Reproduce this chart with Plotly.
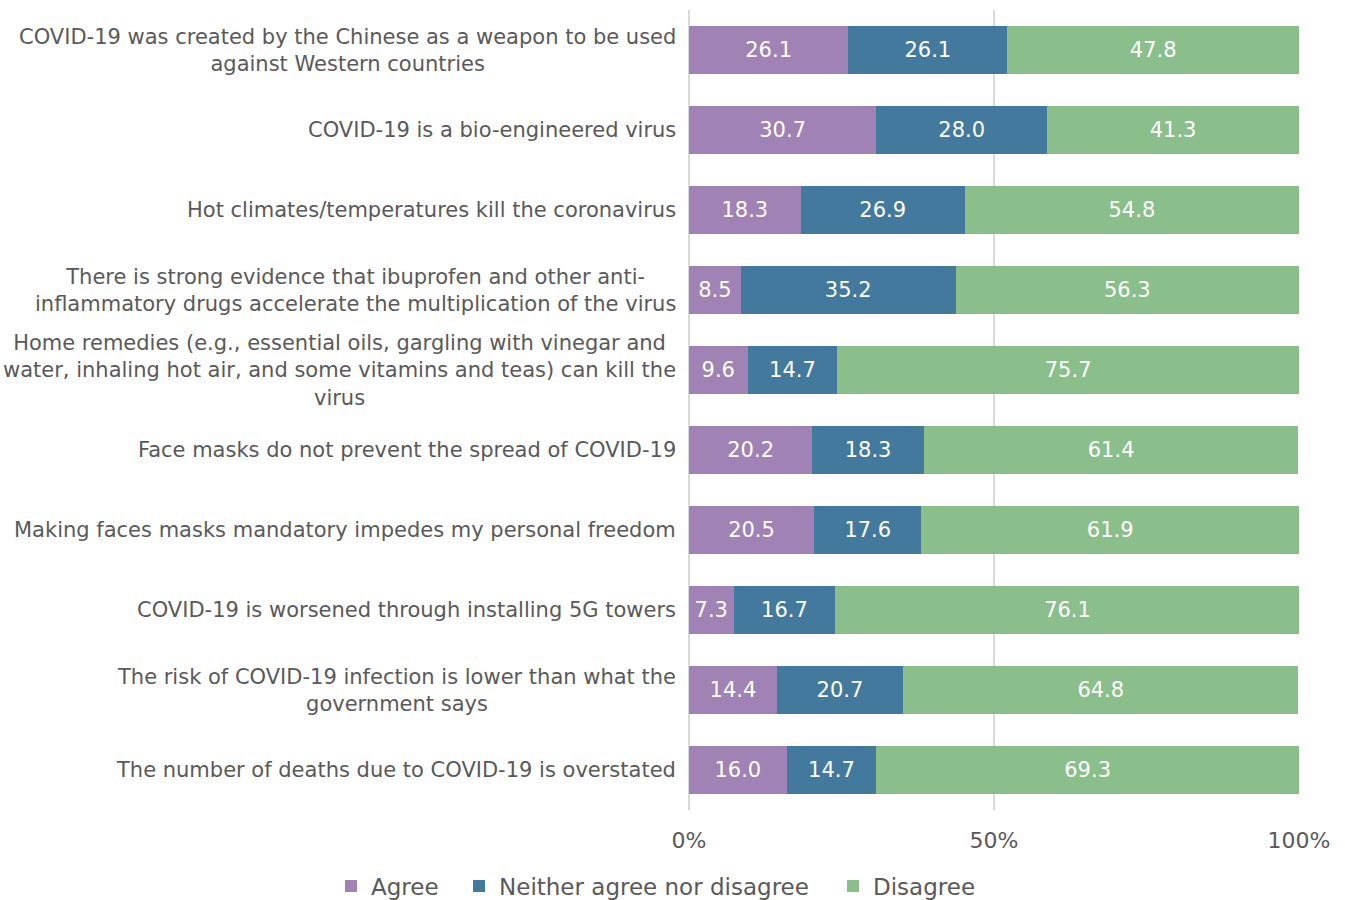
import plotly.graph_objects as go

statements = [
    "COVID-19 was created by the Chinese as a weapon to be used<br>against Western countries",
    "COVID-19 is a bio-engineered virus",
    "Hot climates/temperatures kill the coronavirus",
    "There is strong evidence that ibuprofen and other anti-<br>inflammatory drugs accelerate the multiplication of the virus",
    "Home remedies (e.g., essential oils, gargling with vinegar and<br>water, inhaling hot air, and some vitamins and teas) can kill the<br>virus",
    "Face masks do not prevent the spread of COVID-19",
    "Making faces masks mandatory impedes my personal freedom",
    "COVID-19 is worsened through installing 5G towers",
    "The risk of COVID-19 infection is lower than what the<br>government says",
    "The number of deaths due to COVID-19 is overstated",
]
agree = [26.1, 30.7, 18.3, 8.5, 9.6, 20.2, 20.5, 7.3, 14.4, 16.0]
neither = [26.1, 28.0, 26.9, 35.2, 14.7, 18.3, 17.6, 16.7, 20.7, 14.7]
disagree = [47.8, 41.3, 54.8, 56.3, 75.7, 61.4, 61.9, 76.1, 64.8, 69.3]

series = [
    ("Agree", agree, "#A082B4", "legend", -0.5869),
    ("Neither agree nor disagree", neither, "#43799D", "legend2", -0.377),
    ("Disagree", disagree, "#8ABF8B", "legend3", 0.2361),
]

FONT = "DejaVu Sans"
GREY = "#595959"

fig = go.Figure()
legend_layouts = {}
for name, vals, color, leg, lx in series:
    fig.add_trace(go.Bar(
        name=name,
        y=statements,
        x=vals,
        orientation="h",
        legend=leg,
        showlegend=True,
        marker=dict(color=color, line=dict(width=0)),
        text=[f"{v:.1f}" for v in vals],
        textposition="inside",
        insidetextanchor="middle",
        textfont=dict(family=FONT, size=21, color="white"),
        constraintext="none",
    ))
    legend_layouts[leg] = dict(
        orientation="h",
        x=lx,
        xanchor="left",
        y=-0.095,
        yanchor="middle",
        font=dict(family=FONT, size=23, color=GREY),
        itemwidth=30,
        bgcolor="rgba(0,0,0,0)",
        visible=True,
    )

# Category labels: multi-line labels are centred line-by-line, block right-aligned
for s in statements:
    fig.add_annotation(
        x=0, xref="paper", y=s, yref="y",
        text=s, showarrow=False,
        xanchor="right", yanchor="middle", align="center",
        xshift=-11,
        font=dict(family=FONT, size=21, color=GREY),
    )

fig.update_layout(
    barmode="stack",
    bargap=0.4,
    width=1345,
    height=900,
    showlegend=True,
    margin=dict(l=689, r=46, t=10, b=90, autoexpand=False),
    paper_bgcolor="white",
    plot_bgcolor="white",
    font=dict(family=FONT, color=GREY),
    uniformtext=dict(mode=False),
    xaxis=dict(
        range=[0, 100],
        tickvals=[0, 50, 100],
        ticktext=["0%", "50%", "100%"],
        showgrid=True,
        gridcolor="#D9D9D9",
        gridwidth=2,
        zeroline=True,
        zerolinecolor="#D9D9D9",
        zerolinewidth=2,
        tickfont=dict(family=FONT, size=22, color=GREY),
        ticklabelstandoff=15,
        automargin=False,
    ),
    yaxis=dict(
        autorange="reversed",
        showticklabels=False,
        showgrid=False,
        automargin=False,
    ),
    **legend_layouts,
)

fig.write_html("out.html")
